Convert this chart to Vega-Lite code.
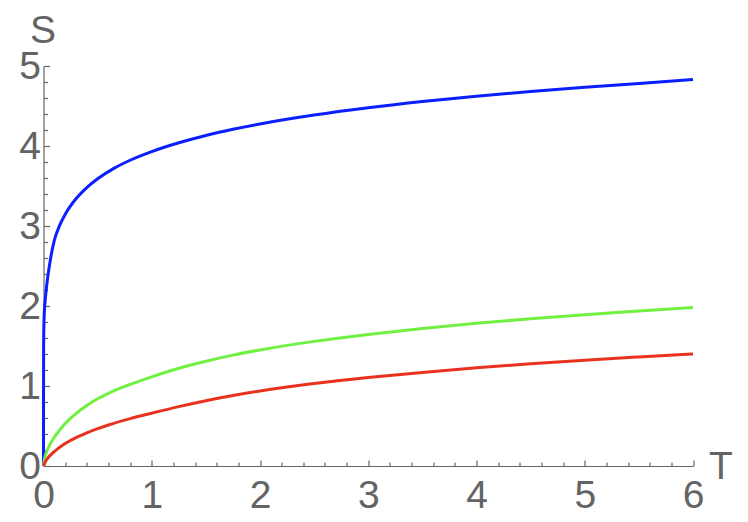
{
  "$schema": "https://vega.github.io/schema/vega-lite/v6.json",
  "width": 649.5,
  "height": 400,
  "autosize": "none",
  "padding": {"left": 43.5, "top": 66, "right": 55, "bottom": 56},
  "background": "white",
  "config": {
    "view": {"stroke": null},
    "axis": {
      "grid": false,
      "labelFont": "Liberation Sans",
      "labelFontSize": 39,
      "labelColor": "#646464",
      "titleFont": "Liberation Sans",
      "titleFontSize": 39,
      "titleFontWeight": "normal",
      "titleColor": "#646464",
      "domainColor": "#666666",
      "tickColor": "#666666",
      "domainWidth": 1.2,
      "tickWidth": 1.2
    }
  },
  "datasets": {
    "curves": [
      {"series": "S1", "T": 0, "S": 0},
      {"series": "S1", "T": 0.0002, "S": 0.9},
      {"series": "S1", "T": 0.001, "S": 1.45},
      {"series": "S1", "T": 0.003, "S": 1.72},
      {"series": "S1", "T": 0.007, "S": 1.9},
      {"series": "S1", "T": 0.015, "S": 2.06},
      {"series": "S1", "T": 0.03, "S": 2.26},
      {"series": "S1", "T": 0.06, "S": 2.55},
      {"series": "S1", "T": 0.1, "S": 2.82},
      {"series": "S1", "T": 0.15, "S": 3.01},
      {"series": "S1", "T": 0.2, "S": 3.145},
      {"series": "S1", "T": 0.3, "S": 3.34},
      {"series": "S1", "T": 0.4, "S": 3.48},
      {"series": "S1", "T": 0.5, "S": 3.59},
      {"series": "S1", "T": 0.65, "S": 3.72},
      {"series": "S1", "T": 0.8, "S": 3.822},
      {"series": "S1", "T": 1.0, "S": 3.93},
      {"series": "S1", "T": 1.25, "S": 4.04},
      {"series": "S1", "T": 1.5, "S": 4.132},
      {"series": "S1", "T": 1.75, "S": 4.209},
      {"series": "S1", "T": 2.0, "S": 4.276},
      {"series": "S1", "T": 2.5, "S": 4.387},
      {"series": "S1", "T": 3.0, "S": 4.478},
      {"series": "S1", "T": 3.5, "S": 4.556},
      {"series": "S1", "T": 4.0, "S": 4.623},
      {"series": "S1", "T": 4.5, "S": 4.682},
      {"series": "S1", "T": 5.0, "S": 4.735},
      {"series": "S1", "T": 5.5, "S": 4.782},
      {"series": "S1", "T": 6.0, "S": 4.83},
      {"series": "S2", "T": 0, "S": 0},
      {"series": "S2", "T": 0.01, "S": 0.09},
      {"series": "S2", "T": 0.03, "S": 0.18},
      {"series": "S2", "T": 0.06, "S": 0.27},
      {"series": "S2", "T": 0.1, "S": 0.36},
      {"series": "S2", "T": 0.15, "S": 0.45},
      {"series": "S2", "T": 0.2, "S": 0.53},
      {"series": "S2", "T": 0.3, "S": 0.655},
      {"series": "S2", "T": 0.4, "S": 0.755},
      {"series": "S2", "T": 0.5, "S": 0.84},
      {"series": "S2", "T": 0.65, "S": 0.94},
      {"series": "S2", "T": 0.8, "S": 1.02},
      {"series": "S2", "T": 1.0, "S": 1.115},
      {"series": "S2", "T": 1.25, "S": 1.222},
      {"series": "S2", "T": 1.5, "S": 1.31},
      {"series": "S2", "T": 1.75, "S": 1.386},
      {"series": "S2", "T": 2.0, "S": 1.451},
      {"series": "S2", "T": 2.5, "S": 1.558},
      {"series": "S2", "T": 3.0, "S": 1.645},
      {"series": "S2", "T": 3.5, "S": 1.72},
      {"series": "S2", "T": 4.0, "S": 1.784},
      {"series": "S2", "T": 4.5, "S": 1.841},
      {"series": "S2", "T": 5.0, "S": 1.892},
      {"series": "S2", "T": 5.5, "S": 1.937},
      {"series": "S2", "T": 6.0, "S": 1.98},
      {"series": "S3", "T": 0, "S": 0},
      {"series": "S3", "T": 0.02, "S": 0.06},
      {"series": "S3", "T": 0.05, "S": 0.115},
      {"series": "S3", "T": 0.1, "S": 0.18},
      {"series": "S3", "T": 0.2, "S": 0.28},
      {"series": "S3", "T": 0.3, "S": 0.355},
      {"series": "S3", "T": 0.4, "S": 0.415},
      {"series": "S3", "T": 0.5, "S": 0.467},
      {"series": "S3", "T": 0.6, "S": 0.513},
      {"series": "S3", "T": 0.8, "S": 0.592},
      {"series": "S3", "T": 1.0, "S": 0.66},
      {"series": "S3", "T": 1.25, "S": 0.742},
      {"series": "S3", "T": 1.5, "S": 0.816},
      {"series": "S3", "T": 1.75, "S": 0.881},
      {"series": "S3", "T": 2.0, "S": 0.938},
      {"series": "S3", "T": 2.5, "S": 1.03},
      {"series": "S3", "T": 3.0, "S": 1.105},
      {"series": "S3", "T": 3.5, "S": 1.17},
      {"series": "S3", "T": 4.0, "S": 1.228},
      {"series": "S3", "T": 4.5, "S": 1.278},
      {"series": "S3", "T": 5.0, "S": 1.323},
      {"series": "S3", "T": 5.5, "S": 1.363},
      {"series": "S3", "T": 6.0, "S": 1.4}
    ]
  },
  "layer": [
    {
      "data": {"name": "curves"},
      "mark": {"type": "point", "opacity": 0},
      "encoding": {
        "x": {
          "field": "T", "type": "quantitative",
          "scale": {"domain": [0, 6], "nice": false, "zero": false},
          "axis": {"orient": "bottom", "values": [0.2, 0.4, 0.6, 0.8, 1.2, 1.4, 1.6, 1.8, 2.2, 2.4, 2.6, 2.8, 3.2, 3.4, 3.6, 3.8, 4.2, 4.4, 4.6, 4.8, 5.2, 5.4, 5.6, 5.8], "labels": false, "domain": false, "tickSize": -4, "title": null}
        },
        "y": {
          "field": "S", "type": "quantitative",
          "scale": {"domain": [0, 5], "nice": false, "zero": false},
          "axis": {"orient": "left", "values": [0.2, 0.4, 0.6, 0.8, 1.2, 1.4, 1.6, 1.8, 2.2, 2.4, 2.6, 2.8, 3.2, 3.4, 3.6, 3.8, 4.2, 4.4, 4.6, 4.8], "labels": false, "domain": false, "tickSize": -4, "title": null}
        }
      }
    },
    {
      "data": {"name": "curves"},
      "mark": {"type": "line", "strokeWidth": 3, "interpolate": "monotone"},
      "encoding": {
        "x": {
          "field": "T", "type": "quantitative",
          "axis": {"orient": "bottom", "values": [0, 1, 2, 3, 4, 5, 6], "tickSize": -6, "labelPadding": 16, "labelBaseline": "top", "title": "T", "titleAngle": 0, "titleAlign": "center", "titleBaseline": "alphabetic", "titleX": 677, "titleY": 12, "labelFlush": false, "labelOverlap": false}
        },
        "y": {
          "field": "S", "type": "quantitative",
          "axis": {"orient": "left", "values": [0, 1, 2, 3, 4, 5], "tickSize": -6, "labelPadding": 9, "labelBaseline": "middle", "title": "S", "titleAngle": 0, "titleAlign": "center", "titleBaseline": "alphabetic", "titleX": -1, "titleY": -24, "labelFlush": false, "labelOverlap": false}
        },
        "color": {
          "field": "series", "type": "nominal",
          "scale": {"domain": ["S1", "S2", "S3"], "range": ["#0a1eff", "#70f040", "#e8321f"]},
          "legend": null
        }
      }
    }
  ],
  "resolve": {"axis": {"x": "independent", "y": "independent"}}
}
